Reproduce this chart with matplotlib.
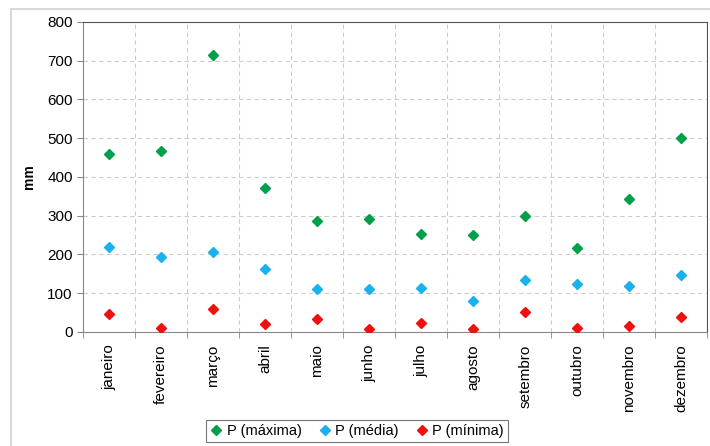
import matplotlib.pyplot as plt
from matplotlib.patches import Rectangle
import numpy as np

meses = ['janeiro', 'fevereiro', 'março', 'abril', 'maio', 'junho',
         'julho', 'agosto', 'setembro', 'outubro', 'novembro', 'dezembro']
p_maxima = [460, 466, 714, 370, 285, 290, 253, 249, 298, 217, 343, 500]
p_media = [218, 192, 207, 163, 110, 110, 112, 80, 133, 124, 119, 146]
p_minima = [47, 10, 60, 20, 32, 8, 22, 8, 51, 10, 16, 38]

plt.rcParams['font.family'] = ['Liberation Sans', 'DejaVu Sans']

fig = plt.figure(figsize=(7.1, 4.46), dpi=100)
ax = fig.add_axes([0.117, 0.256, 0.879, 0.695])

x = np.arange(len(meses))
ax.plot(x, p_maxima, 'D', color='#00a04a', ms=5.5, label='P (máxima)', zorder=3)
ax.plot(x, p_media, 'D', color='#1ab2ec', ms=5.5, label='P (média)', zorder=3)
ax.plot(x, p_minima, 'D', color='#f01010', ms=5.5, label='P (mínima)', zorder=3)

ax.set_xlim(-0.5, len(meses) - 0.5)
ax.set_ylim(0, 800)
ax.set_yticks(range(0, 801, 100))
ax.set_xticks(x)
ax.set_xticklabels(meses, rotation=90, fontsize=11)
ax.set_xticks(np.arange(-0.5, len(meses), 1), minor=True)
ax.tick_params(axis='x', which='major', length=0, pad=9)
ax.tick_params(axis='x', which='minor', length=4, color='#888888')
ax.tick_params(axis='y', labelsize=11, length=4, color='#888888')
ax.grid(True, axis='y', which='major', ls=(0, (4, 3)), color='#cccccc', lw=0.8)
ax.grid(True, axis='x', which='minor', ls=(0, (4, 3)), color='#cccccc', lw=0.8)
ax.set_axisbelow(True)
ax.set_ylabel('mm', fontsize=10, fontweight='bold', labelpad=8)

for s in ['left', 'bottom']:
    ax.spines[s].set_color('#888888')
for s in ['top', 'right']:
    ax.spines[s].set_color('#555555')

leg = fig.legend(loc='lower center', bbox_to_anchor=(0.503, -0.008), ncol=3,
                 fontsize=10.5, frameon=True, fancybox=False, handlelength=0.8,
                 handletextpad=0.3, columnspacing=1.2, borderpad=0.3,
                 markerscale=0.9)
leg.get_frame().set_edgecolor('#555555')
leg.get_frame().set_linewidth(0.8)

fig.patches.append(Rectangle((11 / 710, -0.05), 1.0, 1 - 9 / 446 + 0.05,
                             transform=fig.transFigure, fill=False,
                             edgecolor='#d9d9d9', lw=1.5))

fig.savefig('out.png', dpi=100)
